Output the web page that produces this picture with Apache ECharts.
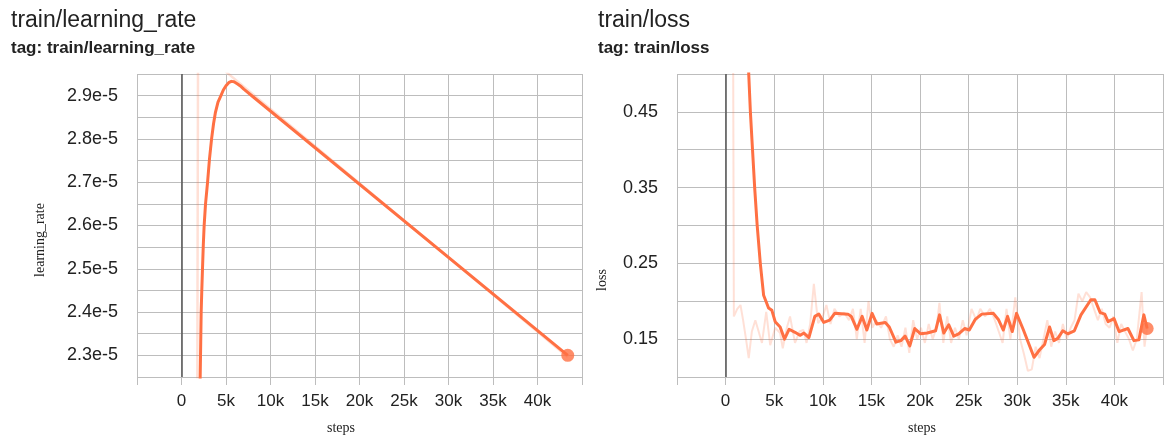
<!DOCTYPE html>
<html>
<head>
<meta charset="utf-8">
<script src="https://cdn.jsdelivr.net/npm/echarts@6/dist/echarts.min.js"></script>
<style>
html, body { margin: 0; padding: 0; background: #fff; }
#main { width: 1166px; height: 438px; }
</style>
</head>
<body>
<div id="main"></div>
<script>
// learning rate, smoothed: [step, value]
var lrSmooth = [
    [2050, 2.20e-5], [2100, 2.25e-5], [2160, 2.33e-5], [2210, 2.40e-5], [2280, 2.45e-5],
    [2360, 2.50e-5], [2450, 2.555e-5], [2545, 2.60e-5], [2700, 2.65e-5], [2930, 2.70e-5],
    [3150, 2.755e-5], [3380, 2.80e-5], [3600, 2.835e-5], [3800, 2.86e-5], [4100, 2.885e-5],
    [4430, 2.90e-5], [4700, 2.913e-5], [5000, 2.923e-5], [5300, 2.930e-5], [5600, 2.933e-5],
    [5900, 2.932e-5], [6300, 2.927e-5], [6700, 2.921e-5], [7000, 2.915e-5], [8000, 2.898e-5],
    [43400, 2.30e-5]
];
// learning rate, raw
var lrRaw = [
    [1700, 1.50e-5], [1900, 3.40e-5], [5000, 2.955e-5], [43400, 2.296e-5]
];
// loss, smoothed
var lossSmooth = [
    [2200, 0.60], [2380, 0.50], [2550, 0.45], [2770, 0.40], [2990, 0.35], [3250, 0.30],
    [3570, 0.25], [3910, 0.208], [4420, 0.191], [4760, 0.188], [5100, 0.173], [5610, 0.166],
    [6060, 0.150], [6530, 0.163], [7140, 0.159], [7650, 0.155], [8060, 0.158], [8570, 0.152],
    [9180, 0.180], [9590, 0.183], [10100, 0.172], [10710, 0.175], [11230, 0.184], [12590, 0.183],
    [12930, 0.180], [13510, 0.163], [14050, 0.180], [14530, 0.162], [15070, 0.184], [15550, 0.170],
    [16430, 0.172], [16840, 0.166], [17520, 0.146], [18030, 0.148], [18470, 0.154], [18950, 0.141],
    [19460, 0.164], [20070, 0.157], [20750, 0.158], [21600, 0.161], [22010, 0.182], [22450, 0.158],
    [22960, 0.169], [23470, 0.154], [23980, 0.157], [24590, 0.164], [25070, 0.162], [25680, 0.176],
    [26360, 0.183], [27550, 0.184], [28060, 0.176], [28570, 0.162], [29010, 0.180], [29490, 0.160],
    [29930, 0.184], [30610, 0.163], [31730, 0.126], [32310, 0.136], [32820, 0.143], [33330, 0.166],
    [33770, 0.148], [34180, 0.151], [34690, 0.161], [35200, 0.157], [35880, 0.161], [36560, 0.182],
    [37580, 0.202], [37990, 0.202], [38540, 0.185], [39010, 0.183], [39350, 0.173], [39960, 0.177],
    [40480, 0.160], [41390, 0.164], [42010, 0.148], [42520, 0.149], [43030, 0.182], [43370, 0.164]
];
// loss, raw
var lossRaw = [
    [700, 0.90], [850, 0.180], [1200, 0.190], [1530, 0.195], [1800, 0.175], [2100, 0.150],
    [2380, 0.125], [2700, 0.160], [3060, 0.175], [3400, 0.160], [3740, 0.145], [4180, 0.186],
    [4590, 0.142], [5100, 0.165], [5610, 0.158], [5880, 0.138], [6300, 0.165], [6630, 0.180],
    [7140, 0.145], [7600, 0.160], [8000, 0.162], [8330, 0.145], [8700, 0.170], [9080, 0.223],
    [9520, 0.171], [10000, 0.180], [10370, 0.195], [10800, 0.170], [11200, 0.190], [11700, 0.180],
    [12200, 0.185], [12700, 0.175], [13100, 0.190], [13500, 0.150], [13900, 0.190], [14300, 0.145],
    [14700, 0.200], [15100, 0.165], [15500, 0.175], [16000, 0.165], [16500, 0.180], [16900, 0.150],
    [17300, 0.140], [17700, 0.155], [18100, 0.140], [18500, 0.165], [18900, 0.132], [19300, 0.175],
    [19700, 0.150], [20100, 0.165], [20500, 0.145], [20900, 0.170], [21300, 0.150], [21700, 0.165],
    [22000, 0.198], [22400, 0.145], [22800, 0.180], [23200, 0.145], [23600, 0.165], [24000, 0.150],
    [24400, 0.175], [24800, 0.155], [25300, 0.190], [25800, 0.175], [26200, 0.190], [26700, 0.180],
    [27200, 0.190], [27700, 0.175], [28100, 0.160], [28500, 0.145], [28900, 0.190], [29300, 0.150],
    [29800, 0.205], [30300, 0.150], [30700, 0.130], [31100, 0.108], [31500, 0.110], [31900, 0.140],
    [32300, 0.125], [32700, 0.150], [33100, 0.175], [33500, 0.140], [33900, 0.160], [34300, 0.145],
    [34700, 0.170], [35100, 0.150], [35500, 0.165], [35900, 0.175], [36300, 0.210], [36700, 0.200],
    [37100, 0.212], [37500, 0.205], [37900, 0.190], [38300, 0.175], [38700, 0.190], [39100, 0.170],
    [39500, 0.165], [39900, 0.180], [40300, 0.145], [40700, 0.170], [41100, 0.160], [41500, 0.150],
    [41900, 0.135], [42300, 0.150], [42800, 0.212], [43100, 0.140], [43400, 0.170]
];
var stepLabels = ['0', '5k', '10k', '15k', '20k', '25k', '30k', '35k', '40k'];
var lrLabels = ['2.3e-5', '2.4e-5', '2.5e-5', '2.6e-5', '2.7e-5', '2.8e-5', '2.9e-5'];
var lossLabels = ['0.15', '0.25', '0.35', '0.45'];

var ORANGE = '#ff7043';
var RAW = 'rgba(255,112,67,0.22)';
var GRID = '#bdbdbd';
var FONT = '"Liberation Sans", Arial, sans-serif';
var SERIF = '"Liberation Serif", "Times New Roman", serif';

var myChart = echarts.init(document.getElementById('main'));

function xAxisOf(idx) {
    return {
        type: 'value', gridIndex: idx, min: -5000, max: 45000, interval: 5000,
        axisLine: { show: false },
        axisTick: { show: true, length: 8, lineStyle: { color: GRID } },
        splitLine: { show: true, lineStyle: { color: GRID, width: 1 } },
        axisLabel: {
            margin: 16, color: '#222', fontSize: 17, fontFamily: FONT,
            formatter: function (v) { return stepLabels[Math.round(v / 5000)] || ''; }
        }
    };
}

function zeroLine() {
    return {
        silent: true, symbol: 'none', label: { show: false },
        lineStyle: { color: '#555', width: 1.5, type: 'solid' },
        data: [{ xAxis: 0 }]
    };
}

var option = {
    animation: false,
    backgroundColor: '#fff',
    title: [{
        text: 'train/learning_rate', subtext: 'tag: train/learning_rate',
        left: 6, top: 4, itemGap: 8,
        textStyle: { fontSize: 23, fontWeight: 'normal', color: '#222', fontFamily: FONT },
        subtextStyle: { fontSize: 17, fontWeight: 'bold', color: '#222', fontFamily: FONT }
    }, {
        text: 'train/loss', subtext: 'tag: train/loss',
        left: 593, top: 4, itemGap: 8,
        textStyle: { fontSize: 23, fontWeight: 'normal', color: '#222', fontFamily: FONT },
        subtextStyle: { fontSize: 17, fontWeight: 'bold', color: '#222', fontFamily: FONT }
    }],
    grid: [
        { left: 137, top: 74, width: 445, height: 303 },
        { left: 677, top: 74, width: 488, height: 303 }
    ],
    xAxis: [xAxisOf(0), xAxisOf(1)],
    yAxis: [{
        type: 'value', gridIndex: 0, min: 2.25e-5, max: 2.95e-5, interval: 0.05e-5,
        axisLine: { show: false },
        axisTick: { show: true, length: 9, lineStyle: { color: GRID } },
        splitLine: { show: true, lineStyle: { color: GRID, width: 1 } },
        axisLabel: {
            margin: 19, color: '#222', fontSize: 18, fontFamily: FONT,
            formatter: function (v) {
                var u = Math.round(v * 1e7);
                if (u % 10 !== 0) return '';
                return lrLabels[(u - 230) / 10] || '';
            }
        }
    }, {
        type: 'value', gridIndex: 1, min: 0.1, max: 0.5, interval: 0.05,
        axisLine: { show: false },
        axisTick: { show: true, length: 9, lineStyle: { color: GRID } },
        splitLine: { show: true, lineStyle: { color: GRID, width: 1 } },
        axisLabel: {
            margin: 19, color: '#222', fontSize: 18, fontFamily: FONT,
            formatter: function (v) {
                var u = Math.round(v * 100);
                if (u % 10 !== 5) return '';
                return lossLabels[(u - 15) / 10] || '';
            }
        }
    }],
    graphic: [
        { type: 'text', x: 40, y: 240, rotation: Math.PI / 2,
          style: { text: 'learning_rate', fontSize: 14, fontFamily: SERIF, fill: '#222', textAlign: 'center', textVerticalAlign: 'middle' } },
        { type: 'text', x: 602, y: 280, rotation: Math.PI / 2,
          style: { text: 'loss', fontSize: 14, fontFamily: SERIF, fill: '#222', textAlign: 'center', textVerticalAlign: 'middle' } },
        { type: 'text', x: 341, y: 428,
          style: { text: 'steps', fontSize: 14, fontFamily: SERIF, fill: '#222', textAlign: 'center', textVerticalAlign: 'middle' } },
        { type: 'text', x: 922, y: 428,
          style: { text: 'steps', fontSize: 14, fontFamily: SERIF, fill: '#222', textAlign: 'center', textVerticalAlign: 'middle' } }
    ],
    series: [{
        name: 'lr raw', type: 'line', xAxisIndex: 0, yAxisIndex: 0,
        data: lrRaw, showSymbol: false, lineStyle: { color: RAW, width: 2.5 },
        markLine: zeroLine()
    }, {
        name: 'lr', type: 'line', xAxisIndex: 0, yAxisIndex: 0,
        data: lrSmooth, showSymbol: false,
        lineStyle: { color: ORANGE, width: 3, join: 'round' }
    }, {
        name: 'lr last', type: 'scatter', xAxisIndex: 0, yAxisIndex: 0,
        data: [lrSmooth[lrSmooth.length - 1]], symbolSize: 13, itemStyle: { color: ORANGE }
    }, {
        name: 'loss raw', type: 'line', xAxisIndex: 1, yAxisIndex: 1,
        data: lossRaw, showSymbol: false, lineStyle: { color: RAW, width: 2 },
        markLine: zeroLine()
    }, {
        name: 'loss', type: 'line', xAxisIndex: 1, yAxisIndex: 1,
        data: lossSmooth, showSymbol: false,
        lineStyle: { color: ORANGE, width: 3, join: 'round' }
    }, {
        name: 'loss last', type: 'scatter', xAxisIndex: 1, yAxisIndex: 1,
        data: [lossSmooth[lossSmooth.length - 1]], symbolSize: 13, itemStyle: { color: ORANGE }
    }]
};
myChart.setOption(option);
</script>
</body>
</html>
